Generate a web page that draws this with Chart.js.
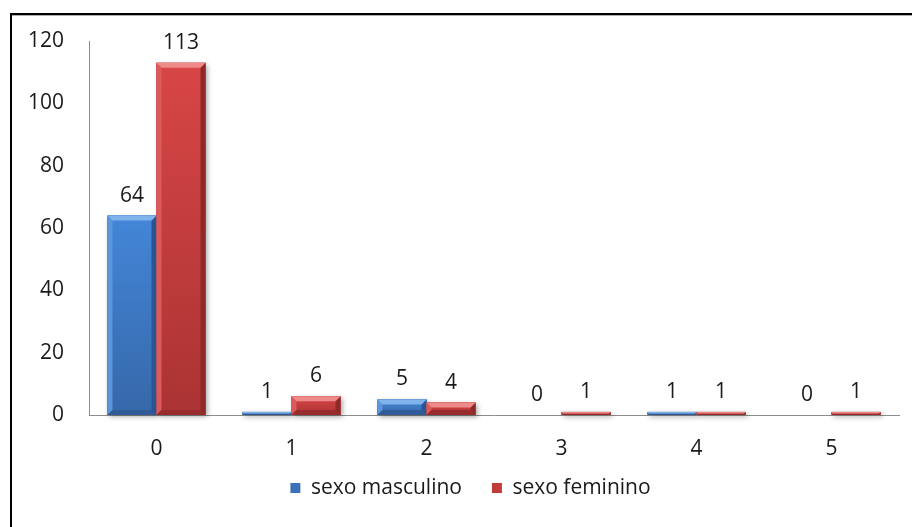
<!DOCTYPE html>
<html>
<head>
<meta charset="utf-8">
<script src="https://cdn.jsdelivr.net/npm/chart.js@4"></script>
<style>
  html, body { margin: 0; padding: 0; background: #fff; }
  #wrap { width: 912px; height: 527px; }
</style>
</head>
<body>
<div id="wrap"><canvas id="c" width="912" height="527"></canvas></div>
<script>
const categories = ['0', '1', '2', '3', '4', '5'];
const seriesNames = ['sexo masculino', 'sexo feminino'];
const masculino = [64, 1, 5, 0, 1, 0];
const feminino = [113, 6, 4, 1, 1, 1];
const yTicks = [0, 20, 40, 60, 80, 100, 120];

const FONT = '"Open Sans", "DejaVu Sans", sans-serif';
const FONT_SIZE = 21;
const TEXT = '#1a1a1a';

// plot box and legend placement on the 912x527 canvas
const PLOT_BOTTOM = 415;
const LEGEND_TEXT_Y = 488;
const LEGEND_SHIFT_X = 21;
const LEGEND_PAD = 30;

// shading for the bevelled bar look
const palettes = [
  { base: '#3a71b8', top: '#4386d8', bottom: '#3668a9', light: '#80b2ec', side: '#5b95da', dark: '#2b5590', foot: '#2f5c98' },
  { base: '#c23b3b', top: '#d84646', bottom: '#ab3333', light: '#ee8a8a', side: '#dd5a5a', dark: '#8e2929', foot: '#982c2c' }
];

function poly(ctx, pts, fill) {
  ctx.beginPath();
  ctx.moveTo(pts[0][0], pts[0][1]);
  for (let i = 1; i < pts.length; i++) ctx.lineTo(pts[i][0], pts[i][1]);
  ctx.closePath();
  ctx.fillStyle = fill;
  ctx.fill();
}

const framePlugin = {
  id: 'frame',
  beforeDraw(chart) {
    const ctx = chart.ctx;
    ctx.save();
    ctx.fillStyle = '#fff';
    ctx.fillRect(0, 0, chart.width, chart.height);
    ctx.restore();
  },
  afterDraw(chart) {
    const ctx = chart.ctx;
    ctx.save();
    ctx.strokeStyle = '#000';
    ctx.lineWidth = 2;
    ctx.strokeRect(11, 14, chart.width + 50, chart.height + 50);
    ctx.strokeStyle = '#b0b0b0';
    ctx.lineWidth = 1;
    ctx.beginPath();
    ctx.moveTo(12, 15.5);
    ctx.lineTo(chart.width, 15.5);
    ctx.stroke();
    ctx.restore();
  }
};

// place the legend row under the axis labels
const legendPlace = {
  id: 'legendPlace',
  afterLayout(chart) {
    const lg = chart.legend;
    if (!lg) return;
    const h = lg.height;
    lg.top = LEGEND_TEXT_Y - LEGEND_PAD - FONT_SIZE / 2;
    lg.bottom = lg.top + h;
    lg.left += LEGEND_SHIFT_X;
    lg.right += LEGEND_SHIFT_X;
  }
};

const bevelPlugin = {
  id: 'bevel',
  beforeDatasetsDraw(chart) {
    const ctx = chart.ctx;
    ctx.save();
    chart.data.datasets.forEach((ds, i) => {
      chart.getDatasetMeta(i).data.forEach(bar => {
        const p = bar.getProps(['x', 'y', 'base', 'width'], true);
        const h = p.base - p.y;
        if (h < 0.5) return;
        ctx.shadowColor = 'rgba(0,0,0,0.35)';
        ctx.shadowBlur = 5;
        ctx.shadowOffsetX = 2;
        ctx.shadowOffsetY = 2;
        ctx.fillStyle = '#888';
        ctx.fillRect(p.x - p.width / 2, p.y, p.width, h);
      });
    });
    ctx.restore();
  },
  afterDatasetsDraw(chart) {
    const ctx = chart.ctx;
    ctx.save();
    chart.data.datasets.forEach((ds, i) => {
      const pal = palettes[i];
      chart.getDatasetMeta(i).data.forEach(bar => {
        const p = bar.getProps(['x', 'y', 'base', 'width'], true);
        const h = p.base - p.y;
        if (h < 0.5) return;
        const l = p.x - p.width / 2, r = p.x + p.width / 2, t = p.y, b = p.base;
        const g = ctx.createLinearGradient(0, t, 0, b);
        g.addColorStop(0, pal.top);
        g.addColorStop(1, pal.bottom);
        ctx.fillStyle = g;
        ctx.fillRect(l, t, p.width, h);
        const e = Math.min(5, h / 2, p.width / 4);
        poly(ctx, [[l, t], [l + e, t + e], [l + e, b - e], [l, b]], pal.side);
        poly(ctx, [[r, t], [r - e, t + e], [r - e, b - e], [r, b]], pal.dark);
        poly(ctx, [[l, b], [l + e, b - e], [r - e, b - e], [r, b]], pal.foot);
        poly(ctx, [[l, t], [r, t], [r - e, t + e], [l + e, t + e]], pal.light);
      });
    });
    ctx.restore();
  }
};

const valueLabels = {
  id: 'valueLabels',
  afterDatasetsDraw(chart) {
    const ctx = chart.ctx;
    ctx.save();
    ctx.font = FONT_SIZE + 'px ' + FONT;
    ctx.fillStyle = TEXT;
    ctx.textAlign = 'center';
    ctx.textBaseline = 'middle';
    chart.data.datasets.forEach((ds, i) => {
      chart.getDatasetMeta(i).data.forEach((bar, j) => {
        const p = bar.getProps(['x', 'y'], true);
        ctx.fillText(String(ds.data[j]), p.x, p.y - 20);
      });
    });
    ctx.restore();
  }
};

new Chart(document.getElementById('c'), {
  type: 'bar',
  data: {
    labels: categories,
    datasets: [
      { label: seriesNames[0], data: masculino, backgroundColor: palettes[0].base, borderWidth: 0 },
      { label: seriesNames[1], data: feminino, backgroundColor: palettes[1].base, borderWidth: 0 }
    ]
  },
  options: {
    responsive: false,
    animation: false,
    events: [],
    layout: { padding: { left: 0, right: 13, top: 41, bottom: 0 } },
    datasets: { bar: { categoryPercentage: 0.726, barPercentage: 1 } },
    scales: {
      x: {
        grid: { display: false, drawTicks: false },
        border: { display: true, color: '#8c8c8c', width: 1 },
        ticks: { color: TEXT, font: { family: FONT, size: FONT_SIZE }, padding: 21 },
        afterFit(scale) {
          const lg = scale.chart.legend;
          const lh = lg ? lg.height : 0;
          scale.height = scale.chart.height - PLOT_BOTTOM - lh;
        }
      },
      y: {
        min: 0,
        max: 120,
        grid: { display: false, drawTicks: false },
        border: { display: true, color: '#8c8c8c', width: 1 },
        afterBuildTicks(scale) { scale.ticks = yTicks.map(v => ({ value: v })); },
        ticks: { color: TEXT, font: { family: FONT, size: FONT_SIZE }, padding: 25 },
        afterFit(scale) { scale.width = 89; }
      }
    },
    plugins: {
      tooltip: { enabled: false },
      legend: {
        position: 'bottom',
        labels: {
          color: TEXT,
          font: { family: FONT, size: FONT_SIZE },
          boxWidth: 10,
          boxHeight: 10,
          padding: LEGEND_PAD
        }
      }
    }
  },
  plugins: [framePlugin, legendPlace, bevelPlugin, valueLabels]
});
</script>
</body>
</html>
